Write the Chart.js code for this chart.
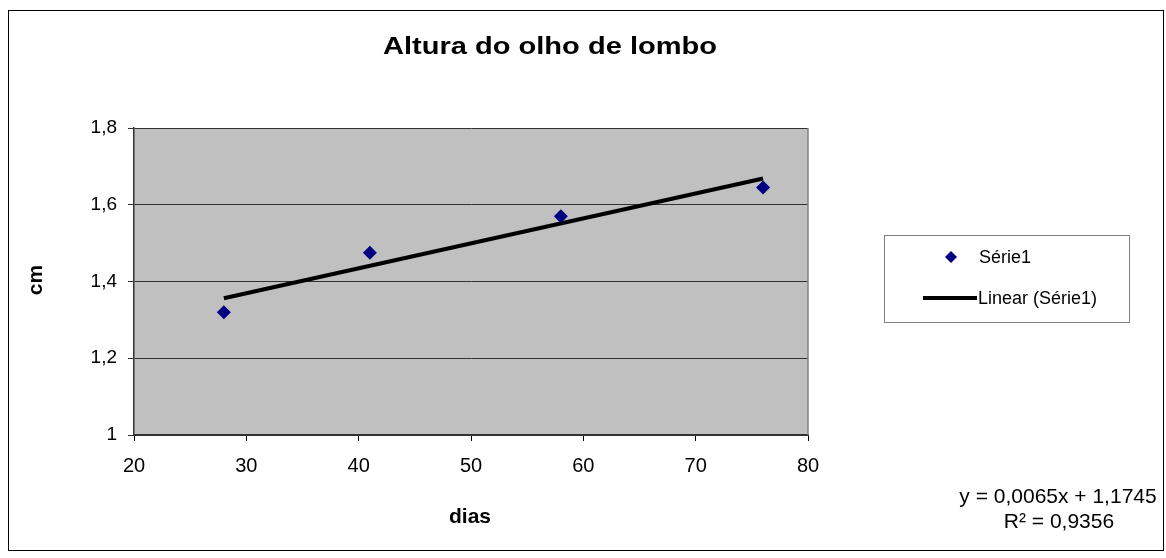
<!DOCTYPE html>
<html>
<head>
<meta charset="utf-8">
<script src="https://cdn.jsdelivr.net/npm/chart.js@4/dist/chart.umd.min.js"></script>
<style>
html,body{margin:0;padding:0;background:#fff;}
#wrap{width:1166px;height:558px;position:relative;}
</style>
</head>
<body>
<div id="wrap"><canvas id="c" width="1166" height="558"></canvas></div>
<script>
// ---- data ----
const dias = [28, 41, 58, 76];
const alturaCm = [1.32, 1.475, 1.57, 1.645];
const xTicks = [20, 30, 40, 50, 60, 70, 80];
const yTicks = [1, 1.2, 1.4, 1.6, 1.8];
const trendSlope = [0.0065];
const trendIntercept = [1.1745];
const titleText = 'Altura do olho de lombo';
const xTitle = 'dias';
const yTitle = 'cm';
const seriesName = 'Série1';
const trendName = 'Linear (Série1)';
const equationLines = ['y = 0,0065x + 1,1745', 'R² = 0,9356'];

const FONT = '"Liberation Sans", Arial, sans-serif';
const fmt = v => String(Math.round(v * 10) / 10).replace('.', ',');

const xMin = Math.min(...dias), xMax = Math.max(...dias);
const trendData = [xMin, xMax].map(x => ({x: x, y: trendSlope[0] * x + trendIntercept[0]}));

function stretchText(ctx, text, cx, baseline, targetW) {
  const w = ctx.measureText(text).width;
  const s = targetW / w;
  ctx.save();
  ctx.translate(cx, baseline);
  ctx.scale(s, 1);
  ctx.textAlign = 'center';
  ctx.fillText(text, 0, 0);
  ctx.restore();
}

const decor = {
  id: 'decor',
  beforeDraw(chart) {
    const ctx = chart.ctx, a = chart.chartArea;
    ctx.save();
    ctx.fillStyle = '#fff';
    ctx.fillRect(0, 0, chart.width, chart.height);
    ctx.fillStyle = '#C0C0C0';
    ctx.fillRect(a.left, a.top, a.right - a.left, a.bottom - a.top);
    ctx.restore();
  },
  afterDraw(chart) {
    const ctx = chart.ctx, a = chart.chartArea;
    ctx.save();
    // plot right border
    ctx.strokeStyle = '#808080';
    ctx.lineWidth = 1.5;
    ctx.beginPath();
    ctx.moveTo(a.right, a.top);
    ctx.lineTo(a.right, a.bottom);
    ctx.stroke();
    // outer border
    ctx.strokeStyle = '#000';
    ctx.lineWidth = 1;
    ctx.strokeRect(8.5, 10.5, 1155, 540);
    // title
    ctx.fillStyle = '#000';
    ctx.textBaseline = 'alphabetic';
    ctx.font = 'bold 23px ' + FONT;
    stretchText(ctx, titleText, 550, 54, 334);
    // axis titles
    ctx.textAlign = 'center';
    ctx.font = 'bold 21px ' + FONT;
    ctx.fillText(xTitle, 470, 523);
    ctx.save();
    ctx.translate(42, 280);
    ctx.rotate(-Math.PI / 2);
    ctx.fillText(yTitle, 0, 0);
    ctx.restore();
    // legend
    ctx.strokeStyle = '#808080';
    ctx.lineWidth = 1;
    ctx.strokeRect(884.5, 235.5, 245, 87);
    ctx.fillStyle = '#000080';
    ctx.beginPath();
    ctx.moveTo(951, 251); ctx.lineTo(957, 257); ctx.lineTo(951, 263); ctx.lineTo(945, 257);
    ctx.closePath(); ctx.fill();
    ctx.strokeStyle = '#000';
    ctx.lineWidth = 4;
    ctx.beginPath();
    ctx.moveTo(923, 298); ctx.lineTo(977, 298); ctx.stroke();
    ctx.fillStyle = '#000';
    ctx.textAlign = 'left';
    ctx.font = '18px ' + FONT;
    ctx.fillText(seriesName, 979, 263);
    ctx.fillText(trendName, 978, 304);
    // equation
    ctx.textAlign = 'center';
    ctx.font = '21px ' + FONT;
    ctx.fillText(equationLines[0], 1058, 503);
    ctx.fillText(equationLines[1], 1059, 528);
    ctx.restore();
  }
};

new Chart(document.getElementById('c'), {
  type: 'scatter',
  data: {
    datasets: [
      {
        label: seriesName,
        data: dias.map((x, i) => ({x: x, y: alturaCm[i]})),
        pointStyle: 'rectRot',
        pointRadius: 7,
        pointHoverRadius: 7,
        backgroundColor: '#000080',
        borderColor: '#000080',
        borderWidth: 0,
        order: 1
      },
      {
        label: trendName,
        type: 'line',
        data: trendData,
        showLine: true,
        borderColor: '#000',
        borderWidth: 4,
        pointRadius: 0,
        fill: false,
        order: 2
      }
    ]
  },
  options: {
    responsive: false,
    animation: false,
    events: [],
    layout: {padding: {left: 74, right: 358, top: 128, bottom: 73}},
    plugins: {legend: {display: false}, title: {display: false}, tooltip: {enabled: false}},
    scales: {
      x: {
        type: 'linear',
        min: xTicks[0], max: xTicks[xTicks.length - 1],
        afterBuildTicks: s => { s.ticks = xTicks.map(v => ({value: v})); },
        afterFit: s => { s.height = 50; },
        grid: {drawOnChartArea: false, drawTicks: true, tickLength: 6, color: '#000', lineWidth: 1},
        border: {display: true, color: '#333', width: 1.5},
        ticks: {color: '#000', font: {family: FONT, size: 20}, padding: 13, maxRotation: 0, callback: v => fmt(v)}
      },
      y: {
        type: 'linear',
        min: yTicks[0], max: yTicks[yTicks.length - 1],
        afterBuildTicks: s => { s.ticks = yTicks.map(v => ({value: v})); },
        afterFit: s => { s.width = 60; },
        grid: {drawOnChartArea: true, drawTicks: true, tickLength: 6, color: '#333', lineWidth: 1},
        border: {display: true, color: '#333', width: 1.5},
        ticks: {color: '#000', font: {family: FONT, size: 19}, padding: 11, callback: v => fmt(v)}
      }
    }
  },
  plugins: [decor]
});
</script>
</body>
</html>
